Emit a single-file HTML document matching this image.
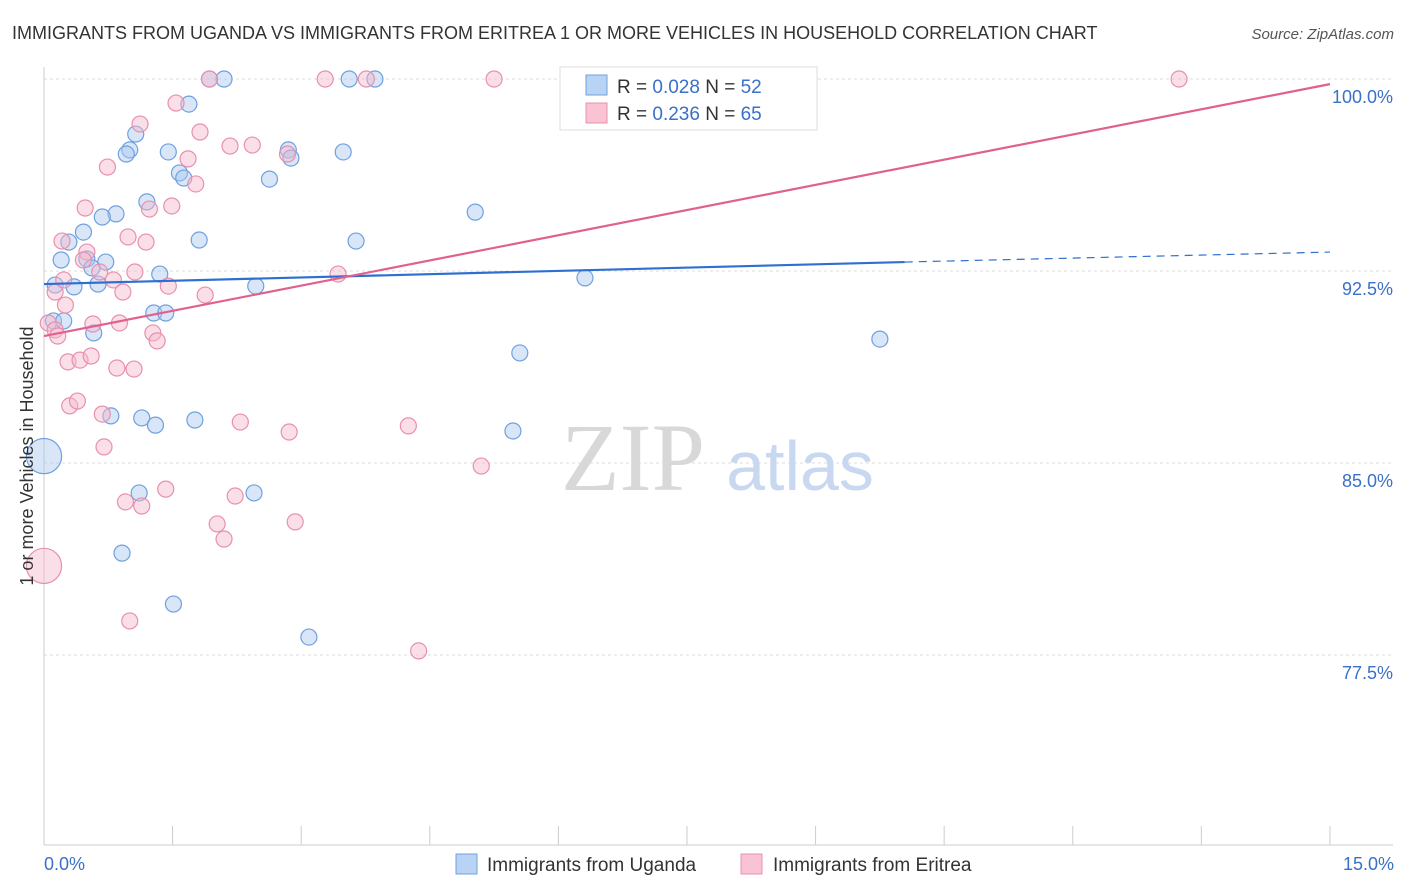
<!DOCTYPE html>
<html><head><meta charset="utf-8"><style>
body{margin:0;background:#fff;font-family:"Liberation Sans",sans-serif;}
svg{display:block}
</style></head><body>
<svg id="chart" width="1406" height="892" viewBox="0 0 1406 892" xmlns="http://www.w3.org/2000/svg">
<text x="12" y="39" font-size="18" fill="#333">IMMIGRANTS FROM UGANDA VS IMMIGRANTS FROM ERITREA 1 OR MORE VEHICLES IN HOUSEHOLD CORRELATION CHART</text>
<text x="1394" y="39" font-size="15" font-style="italic" fill="#555" text-anchor="end">Source: ZipAtlas.com</text>
<g id="grid"></g>
<g>
<text x="633" y="490" font-family="Liberation Serif,serif" font-size="96" fill="#d8d8d8" text-anchor="middle">ZIP</text>
<text x="800" y="490" font-size="70" fill="#c8d8f0" text-anchor="middle">atlas</text>
</g>
<g id="axes"></g>
<g id="marks"></g>
<text transform="translate(33,456) rotate(-90)" font-size="18" fill="#333" text-anchor="middle">1 or more Vehicles in Household</text>
<g>
<rect x="560" y="67" width="257" height="63" fill="#fff" stroke="#ddd"/>
<rect x="586" y="75" width="21" height="20" fill="#b9d3f5" stroke="#6fa0e0"/>
<rect x="586" y="103" width="21" height="20" fill="#f9c3d4" stroke="#e890ad"/>
<text x="617" y="93" font-size="19" fill="#333">R = <tspan fill="#3a70c8">0.028</tspan>   N = <tspan fill="#3a70c8">52</tspan></text>
<text x="617" y="120" font-size="19" fill="#333">R = <tspan fill="#3a70c8">0.236</tspan>   N = <tspan fill="#3a70c8">65</tspan></text>
</g>
<g>
<rect x="456" y="854" width="21" height="20" fill="#b9d3f5" stroke="#6fa0e0"/>
<text x="487" y="871" font-size="19" fill="#333">Immigrants from Uganda</text>
<rect x="741" y="854" width="21" height="20" fill="#f9c3d4" stroke="#e890ad"/>
<text x="773" y="871" font-size="19" fill="#333">Immigrants from Eritrea</text>
</g>
</svg>
<script>
const yTicks=[100,92.5,85,77.5];
const yTickLabels=["100.0%","92.5%","85.0%","77.5%"];
const xTickLabels=["0.0%","15.0%"];
const ugandaX=[1.93,2.10,3.56,3.86,1.69,1.07,1.00,0.96,1.45,2.85,2.88,3.49,1.58,1.63,2.63,1.20,0.84,0.68,5.03,0.46,0.29,1.81,3.64,0.20,0.50,0.72,0.56,1.35,6.31,0.13,0.35,0.63,2.47,1.28,1.42,0.11,0.23,0.58,5.55,9.75,0.78,1.14,1.30,1.76,5.47,0,1.11,2.45,0.91,1.51,3.09];
const ugandaY=[100,100,100,100,99.02,97.85,97.23,97.07,97.15,97.23,96.91,97.15,96.33,96.13,96.09,95.20,94.73,94.61,94.80,94.02,93.63,93.71,93.67,92.93,92.97,92.85,92.62,92.38,92.23,91.95,91.88,91.99,91.91,90.86,90.86,90.55,90.55,90.08,89.30,89.84,86.84,86.76,86.48,86.68,86.25,85.27,83.83,83.83,81.48,79.49,78.20];
const ugandaSize=[1,1,1,1,1,1,1,1,1,1,1,1,1,1,1,1,1,1,1,1,1,1,1,1,1,1,1,1,1,1,1,1,1,1,1,1,1,1,1,1,1,1,1,1,1,2.2,1,1,1,1,1];
const eritreaX=[1.93,3.28,3.76,5.25,6.76,13.24,1.54,1.12,1.82,2.17,2.43,2.84,1.68,0.74,1.77,1.49,1.23,0.48,0.98,1.19,0.21,0.50,0.46,0.65,1.06,0.81,0.92,1.45,1.88,3.43,0.13,0.25,0.05,0.13,0.16,0.57,0.88,1.27,1.32,0.28,0.42,0.55,0.85,1.05,0.30,0.39,0.68,2.29,2.86,4.25,0.70,5.10,1.42,0.95,1.14,2.23,2.02,2.10,2.93,0,1.00,4.37,0.23];
const eritreaY=[100,100,100,100,100,100,99.06,98.24,97.93,97.38,97.42,97.07,96.88,96.56,95.90,95.04,94.92,94.96,93.83,93.63,93.67,93.24,92.93,92.46,92.46,92.15,91.68,91.91,91.56,92.38,91.68,91.17,90.47,90.20,89.96,90.43,90.47,90.08,89.77,88.95,89.02,89.18,88.71,88.67,87.23,87.42,86.91,86.60,86.21,86.45,85.63,84.88,83.98,83.48,83.32,83.71,82.62,82.03,82.70,80.98,78.83,77.66,92.15];
const eritreaSize=eritreaX.map((v,i)=>i===59?2.2:1);
const ugandaTrendX=[0,10.04,15];
const ugandaTrendY=[91.99,92.85,93.24];
const eritreaTrendX=[0,15];
const eritreaTrendY=[89.96,99.8];

const X0=44,XS=85.73,Y0=79,YS=25.6;
const sx=v=>X0+v*XS;
const sy=v=>Y0+(100-v)*YS;
const NS="http://www.w3.org/2000/svg";
function mk(parent,tag,attrs){const e=document.createElementNS(NS,tag);for(const k in attrs)e.setAttribute(k,attrs[k]);document.getElementById(parent).appendChild(e);return e;}

yTicks.forEach((t,i)=>{
  const g=mk('grid','line',{x1:44,x2:1393,y1:sy(t),y2:sy(t),stroke:'#ddd','stroke-dasharray':'3,3'});
  
  
  const l=mk('axes','text',{x:1393,y:sy(t)+24,'font-size':18,fill:'#3a70c8','text-anchor':'end'});
  l.textContent=yTickLabels[i];
  
  
});
const xa=mk('axes','line',{x1:44,x2:1393,y1:845,y2:845,stroke:'#ccc'});


const ya=mk('axes','line',{x1:44,x2:44,y1:67,y2:845,stroke:'#ccc'});


for(let i=0;i<=10;i++){
  const t=mk('axes','line',{x1:sx(i*1.5),x2:sx(i*1.5),y1:826,y2:845,stroke:'#ccc'});
  
  
}
[[0,'start',xTickLabels[0]],[15,'end',xTickLabels[1]]].forEach(([v,a,s])=>{
  const l=mk('axes','text',{x:v===0?44:1394,y:870,'font-size':18,fill:'#3a70c8','text-anchor':a});
  l.textContent=s;
  
  
});
function pts(xs,ys,sz,fill,stroke,name){
  xs.forEach((x,i)=>{
    const c=mk('marks','circle',{cx:sx(x),cy:sy(ys[i]),r:8*sz[i],fill:fill,'fill-opacity':0.45,stroke:stroke,'stroke-width':1.2});
    
    
  });
}
pts(ugandaX,ugandaY,ugandaSize,'#a9c8f0','#6fa0e0','uganda-point');
pts(eritreaX,eritreaY,eritreaSize,'#f5b8cb','#e890ad','eritrea-point');
const ut=mk('marks','line',{x1:sx(ugandaTrendX[0]),y1:sy(ugandaTrendY[0]),x2:sx(ugandaTrendX[1]),y2:sy(ugandaTrendY[1]),stroke:'#2f6fd0','stroke-width':2.2});


const ud=mk('marks','line',{x1:sx(ugandaTrendX[1]),y1:sy(ugandaTrendY[1]),x2:sx(ugandaTrendX[2]),y2:sy(ugandaTrendY[2]),stroke:'#2f6fd0','stroke-width':1.2,'stroke-dasharray':'8,6'});


const et=mk('marks','line',{x1:sx(eritreaTrendX[0]),y1:sy(eritreaTrendY[0]),x2:sx(eritreaTrendX[1]),y2:sy(eritreaTrendY[1]),stroke:'#e0608f','stroke-width':2.2});


</script>
</body></html>
